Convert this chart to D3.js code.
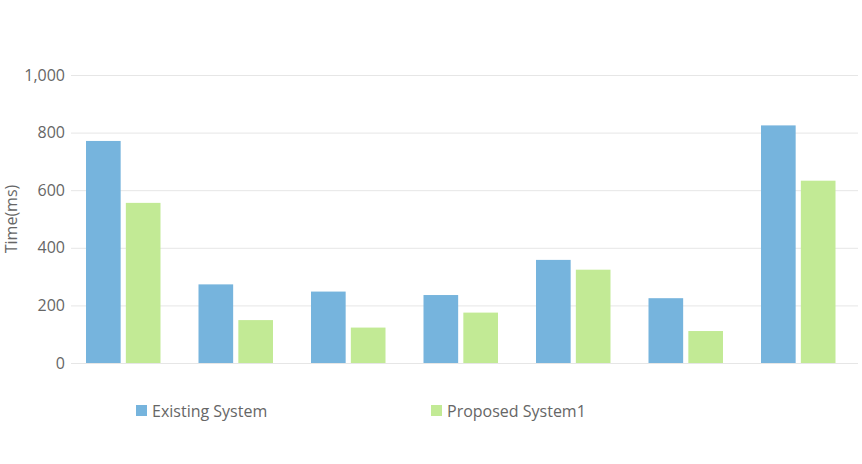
<!DOCTYPE html>
<html>
<head>
<meta charset="utf-8">
<script src="https://cdn.jsdelivr.net/npm/d3@7"></script>
<style>
  body { margin: 0; background: #fff; }
  text { font-family: "Open Sans", sans-serif; }
</style>
</head>
<body>
<div id="chart"></div>
<script>
var categories = ["1", "2", "3", "4", "5", "6", "7"]
var seriesNames = ["Existing System", "Proposed System1"]
var existing = [771, 273, 248, 236, 358, 225, 825]
var proposed = [556, 149, 123, 175, 324, 111, 633]
var yTicks = [0, 200, 400, 600, 800, 1000]
var colors = ["#76b4dd", "#c2ea95"]

var width = 862
var height = 464

var svg = d3.select("#chart")
  .append("svg")
  .attr("width", width)
  .attr("height", height)

var y = d3.scaleLinear()
  .domain([0, 1000])
  .range([363, 75])

var x = d3.scaleBand()
  .domain(categories)
  .range([67, 854.5])

var xInner = d3.scaleBand()
  .domain(seriesNames)
  .range([19, 93.5])
  .paddingInner(0.13)

// gridlines + tick labels
var yAxis = svg.append("g")
  .attr("transform", "translate(71,0)")
  .call(d3.axisLeft(y).tickValues(yTicks).tickSize(-787).tickPadding(8)
    .tickFormat(d3.format(",")))
yAxis.select(".domain").remove()
yAxis.selectAll(".tick line").attr("stroke", "#e6e6e6")
yAxis.selectAll(".tick text")
  .attr("fill", "#666")
  .style("font-size", "16px")
  .attr("x", -6)

svg.append("text")
  .attr("transform", "translate(17," + y(500) + ") rotate(-90)")
  .attr("text-anchor", "middle")
  .attr("fill", "#666")
  .style("font-size", "16px")
  .text("Time(ms)")

var rows = categories.map(function(c, i) {
  return {cat: c, values: [existing[i], proposed[i]]}
})

var groups = svg.selectAll("g.grp")
  .data(rows)
  .enter().append("g")
  .attr("class", "grp")
  .attr("transform", function(d) { return "translate(" + x(d.cat) + ",0)" })

groups.selectAll("rect")
  .data(function(d) { return d.values.map(function(v, j) { return {name: seriesNames[j], v: v, j: j} }) })
  .enter().append("rect")
  .attr("x", function(d) { return xInner(d.name) })
  .attr("width", xInner.bandwidth())
  .attr("y", function(d) { return y(d.v) })
  .attr("height", function(d) { return y(0) - y(d.v) })
  .attr("fill", function(d) { return colors[d.j] })

// legend
var legendX = [136, 431]
var legend = svg.selectAll("g.legend")
  .data(seriesNames)
  .enter().append("g")
  .attr("class", "legend")
  .attr("transform", function(d, i) { return "translate(" + legendX[i] + ",405)" })

legend.append("rect")
  .attr("width", 11)
  .attr("height", 11)
  .attr("fill", function(d, i) { return colors[i] })

legend.append("text")
  .attr("x", 16)
  .attr("y", 11.5)
  .attr("fill", "#666")
  .style("font-size", "16px")
  .text(function(d) { return d })
</script>
</body>
</html>
